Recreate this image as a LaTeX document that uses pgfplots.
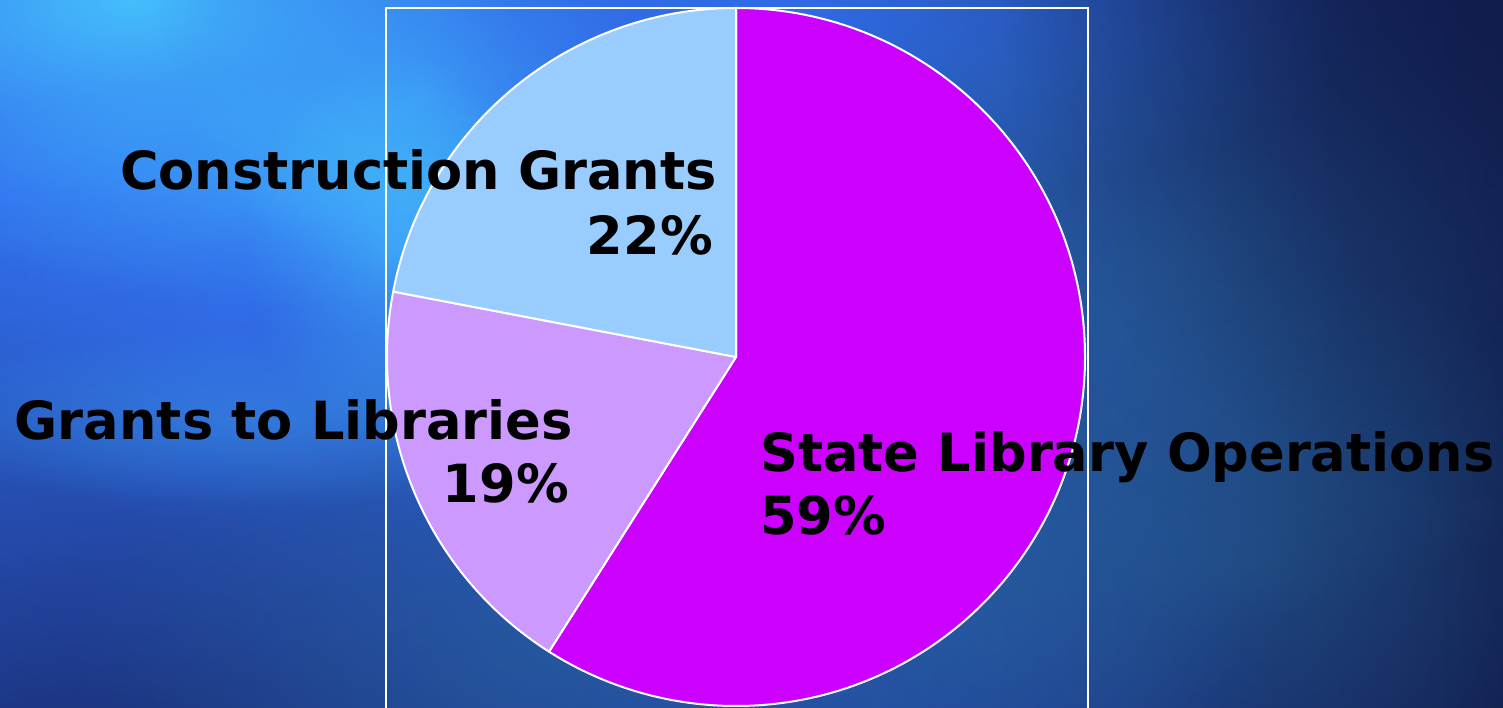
\documentclass[border=0pt]{standalone}
\usepackage{pgfplots}
\pgfplotsset{compat=1.18}
\usepackage{pgfplotstable}
\usepackage{fontspec}
\setmainfont{DejaVu Sans}
\usetikzlibrary{fadings}
\tikzfading[name=glow, inner color=transparent!0, outer color=transparent!100]
\definecolor{stateC}{HTML}{CC00FF}
\definecolor{grantsC}{HTML}{CC99FF}
\definecolor{constrC}{HTML}{99CCFF}
\definecolor{bgL}{HTML}{2F66E2}
\definecolor{bgM}{HTML}{2448AC}
\definecolor{bgR}{HTML}{111C4C}
\definecolor{cyanG}{HTML}{48CCFF}
\definecolor{blueG}{HTML}{3474F4}
\definecolor{navyD}{HTML}{18286A}
\definecolor{tealG}{HTML}{2A6A98}
\pgfplotstableread{
label pct color
State 59 stateC
Grants 19 grantsC
Construction 22 constrC
}\piedata
\begin{document}
\begin{tikzpicture}
\begin{axis}[
  width=1503pt, height=708pt, scale only axis,
  xmin=0, xmax=1503, ymin=0, ymax=708,
  hide axis, clip=true,
]
% background
\fill[left color=bgL, right color=bgR, middle color=bgM] (axis cs:0,0) rectangle (axis cs:1503,708);
\fill[blueG, path fading=glow] (axis cs:250,420) ellipse [x radius=1100pt, y radius=1000pt];
\fill[navyD, path fading=glow] (axis cs:100,-130) ellipse [x radius=1000pt, y radius=640pt];
\fill[tealG, path fading=glow, opacity=0.45] (axis cs:560,60) ellipse [x radius=500pt, y radius=260pt];
\fill[cyanG, path fading=glow, opacity=0.85] (axis cs:130,708) ellipse [x radius=380pt, y radius=200pt];
\fill[cyanG, path fading=glow, opacity=0.6] (axis cs:420,610) ellipse [x radius=240pt, y radius=180pt];
\fill[cyanG, path fading=glow, opacity=0.6] (axis cs:395,460) ellipse [x radius=150pt, y radius=200pt];
\fill[cyanG, path fading=glow, opacity=0.45] (axis cs:270,520) ellipse [x radius=360pt, y radius=120pt];
\fill[cyanG, path fading=glow, opacity=0.3] (axis cs:250,290) ellipse [x radius=360pt, y radius=90pt];
\fill[blueG, path fading=glow, opacity=0.5] (axis cs:230,380) ellipse [x radius=300pt, y radius=200pt];
\fill[blueG, path fading=glow, opacity=0.7] (axis cs:760,690) ellipse [x radius=600pt, y radius=200pt];
\fill[tealG, path fading=glow, opacity=0.55] (axis cs:1180,440) ellipse [x radius=500pt, y radius=360pt];
\fill[tealG, path fading=glow, opacity=0.45] (axis cs:1250,150) ellipse [x radius=400pt, y radius=300pt];
\fill[tealG, path fading=glow, opacity=0.4] (axis cs:960,120) ellipse [x radius=300pt, y radius=240pt];
\fill[bgR, path fading=glow, opacity=0.8] (axis cs:1503,708) ellipse [x radius=500pt, y radius=500pt];
% pie
\pgfplotstablegetrowsof{\piedata}
\pgfmathtruncatemacro{\nrows}{\pgfplotsretval-1}
\gdef\startang{90}
\pgfplotsinvokeforeach{0,...,\nrows}{
  \pgfplotstablegetelem{#1}{pct}\of{\piedata}\let\pct\pgfplotsretval
  \pgfplotstablegetelem{#1}{color}\of{\piedata}\let\col\pgfplotsretval
  \pgfmathsetmacro{\delta}{-3.6*\pct}
  \edef\temp{\noexpand\fill[\col, draw=white, line width=2pt, line join=round] (axis cs:736,351) -- ++(\startang:349pt) arc[start angle=\startang, delta angle=\delta, radius=349pt] -- cycle;}
  \temp
  \pgfmathsetmacro{\newstart}{\startang+\delta}
  \global\let\startang\newstart
}
% frame
\draw[white, line width=2pt] (axis cs:386,-10) -- (axis cs:386,700) -- (axis cs:1088,700) -- (axis cs:1088,-10);
% labels
\begin{scope}[every node/.style={inner sep=0pt, font=\fontsize{52.6}{63}\selectfont\bfseries, text=black}]
\node[anchor=base east] at (axis cs:717,518) {Construction Grants};
\node[anchor=base east] at (axis cs:713,453) {22\%};
\node[anchor=base east] at (axis cs:573,268) {Grants to Libraries};
\node[anchor=base east] at (axis cs:569,205) {19\%};
\node[anchor=base west] at (axis cs:760,236) {State Library Operations};
\node[anchor=base west] at (axis cs:760,173) {59\%};
\end{scope}
\end{axis}
\end{tikzpicture}
\end{document}
